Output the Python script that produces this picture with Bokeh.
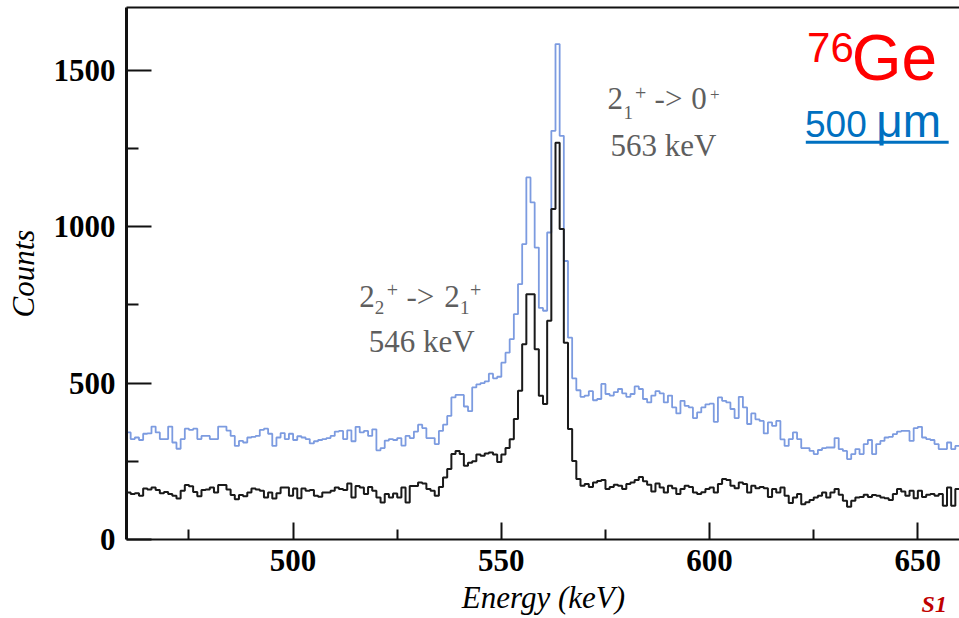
import numpy as np
from bokeh.plotting import figure
from bokeh.models import Range1d, FixedTicker, LinearAxis, Label, BoxAnnotation
from bokeh.embed import file_html
from bokeh.resources import INLINE

# Histogram binning (keV)
bin_start = 460
bin_width = 1

# Counts per 1 keV bin, 460-659 keV (blue spectrum)
counts_blue = [
    342, 321, 326, 318, 338, 339, 361, 342, 321, 321,
    361, 310, 290, 321, 354, 350, 354, 321, 331, 331,
    321, 321, 361, 361, 348, 331, 299, 315, 310, 326,
    328, 331, 350, 354, 338, 299, 326, 340, 321, 338,
    318, 330, 326, 321, 307, 314, 318, 321, 324, 331,
    345, 347, 321, 349, 314, 360, 342, 347, 331, 352,
    285, 292, 316, 321, 318, 324, 300, 331, 324, 345,
    367, 356, 324, 324, 305, 347, 367, 395, 454, 462,
    462, 425, 410, 486, 496, 500, 505, 530, 515, 520,
    565, 597, 640, 720, 816, 944, 1157, 1077, 933, 740,
    731, 981, 1306, 1583, 1290, 890, 645, 515, 477, 456,
    460, 474, 445, 449, 497, 465, 460, 471, 481, 467,
    456, 465, 489, 481, 449, 438, 460, 474, 467, 438,
    460, 422, 403, 443, 427, 422, 388, 406, 422, 432,
    434, 376, 454, 443, 438, 417, 388, 456, 422, 369,
    403, 384, 379, 339, 374, 363, 379, 320, 299, 321,
    342, 321, 292, 292, 283, 273, 286, 292, 294, 294,
    324, 289, 283, 257, 273, 289, 273, 305, 318, 273,
    305, 315, 326, 328, 337, 345, 347, 347, 315, 356,
    360, 326, 321, 318, 305, 289, 289, 310, 289, 299,
]

# Counts per 1 keV bin, 460-659 keV (black spectrum)
counts_black = [
    150, 145, 148, 140, 163, 160, 166, 158, 148, 152,
    145, 140, 131, 156, 174, 170, 152, 138, 158, 160,
    166, 150, 174, 174, 160, 142, 129, 142, 138, 150,
    163, 160, 156, 134, 150, 131, 148, 166, 166, 140,
    163, 132, 163, 156, 158, 140, 137, 150, 150, 156,
    166, 161, 158, 179, 134, 171, 166, 145, 168, 156,
    134, 118, 145, 134, 147, 134, 166, 118, 171, 171,
    182, 179, 161, 156, 140, 168, 198, 225, 273, 283,
    273, 236, 245, 250, 272, 268, 275, 278, 272, 248,
    272, 292, 320, 385, 475, 624, 784, 784, 608, 459,
    433, 699, 1056, 1268, 992, 629, 353, 251, 193, 172,
    177, 168, 182, 187, 190, 161, 168, 175, 172, 161,
    177, 182, 190, 200, 186, 175, 153, 179, 166, 150,
    172, 164, 145, 161, 172, 168, 150, 145, 151, 161,
    166, 150, 177, 193, 190, 172, 164, 182, 177, 150,
    172, 164, 168, 164, 136, 161, 150, 166, 140, 117,
    134, 145, 113, 119, 126, 134, 140, 150, 134, 150,
    161, 143, 124, 105, 124, 134, 136, 143, 136, 142,
    140, 134, 132, 126, 145, 161, 153, 140, 156, 132,
    156, 136, 143, 145, 140, 145, 108, 166, 108, 161,
]

x_ticks = [500, 550, 600, 650]
x_minor = [475, 525, 575, 625]
y_ticks = [0, 500, 1000, 1500]
y_minor = [250, 750, 1250]

# Axis extents in data units
x_lo, x_hi = 460, 660
y_lo, y_hi = 0, 1700

SERIF = "Liberation Serif"
SANS = "Liberation Sans"
GRAY = "#5e5e5e"

# Canvas size and where the axes sit on it (pixels from top-left).
# The frame fills the whole canvas; the axes are pinned at fixed data
# locations so tick labels, titles and notes all live inside the frame.
plot_w, plot_h = 959, 618
axis_left_px, axis_top_px, axis_bottom_px = 126, 7, 539
kev_per_px = (x_hi - x_lo) / (plot_w - axis_left_px)
cnt_per_px = (y_hi - y_lo) / (axis_bottom_px - axis_top_px)

p = figure(
    width=plot_w, height=plot_h,
    x_range=Range1d(x_lo - axis_left_px * kev_per_px, x_hi),
    y_range=Range1d(y_lo - (plot_h - axis_bottom_px) * cnt_per_px,
                    y_hi + axis_top_px * cnt_per_px),
    output_backend="svg", toolbar_location=None,
    min_border=0,
)
p.background_fill_color = "white"
p.border_fill_color = "white"
p.outline_line_color = None
p.grid.visible = False

# Bottom axis, pinned at zero counts
xa = p.xaxis[0]
xa.fixed_location = y_lo
xa.bounds = (x_lo, x_hi)
xa.ticker = FixedTicker(ticks=x_ticks, minor_ticks=x_minor)
xa.major_tick_in = 17
xa.major_tick_out = 0
xa.minor_tick_in = 10
xa.minor_tick_out = 0
xa.major_tick_line_width = 2
xa.minor_tick_line_width = 2
xa.major_tick_line_color = "#111111"
xa.minor_tick_line_color = "#111111"
xa.axis_line_width = 2
xa.axis_line_color = "#111111"
xa.major_label_text_font = SERIF
xa.major_label_text_font_style = "bold"
xa.major_label_text_font_size = "31px"
xa.major_label_text_color = "black"
xa.major_label_standoff = 10

# Left axis, pinned at the first bin edge
ya = p.yaxis[0]
ya.fixed_location = x_lo
ya.bounds = (y_lo, y_hi)
ya.ticker = FixedTicker(ticks=y_ticks, minor_ticks=y_minor)
ya.major_tick_in = 25
ya.major_tick_out = 0
ya.minor_tick_in = 12
ya.minor_tick_out = 0
ya.major_tick_line_width = 2
ya.minor_tick_line_width = 2
ya.major_tick_line_color = "#111111"
ya.minor_tick_line_color = "#111111"
ya.axis_line_width = 3
ya.axis_line_color = "#111111"
ya.major_label_text_font = SERIF
ya.major_label_text_font_style = "bold"
ya.major_label_text_font_size = "31px"
ya.major_label_text_color = "black"
ya.major_label_standoff = 11
ya.axis_label = "Counts"
ya.axis_label_text_font = SERIF
ya.axis_label_text_font_style = "italic"
ya.axis_label_text_font_size = "31px"
ya.axis_label_text_color = "black"
ya.axis_label_standoff = 10

# Top frame line (no right edge)
top = LinearAxis(
    fixed_location=y_hi, bounds=(x_lo, x_hi),
    ticker=FixedTicker(ticks=[], minor_ticks=[]),
    axis_line_width=2, axis_line_color="#111111",
    major_tick_line_color=None, minor_tick_line_color=None,
)
p.add_layout(top, "above")

# Histograms drawn as steps over the bin edges
edges_blue = bin_start + bin_width * np.arange(len(counts_blue) + 1)
edges_black = bin_start + bin_width * np.arange(len(counts_black) + 1)
p.step(edges_blue, np.append(counts_blue, counts_blue[-1]), mode="after",
       line_color="#7c9be0", line_width=1.8)
p.step(edges_black, np.append(counts_black, counts_black[-1]), mode="after",
       line_color="#1a1a1a", line_width=2)


def put(text, x, y, size, color, font=SERIF, style="normal", align="left"):
    p.add_layout(Label(
        x=x, y=y, text=text, text_font=font, text_font_size=f"{size}px",
        text_color=color, text_font_style=style, text_align=align,
        text_baseline="alphabetic",
    ))


# x-axis title under the tick labels
put("Energy (keV)", 560.1, -185, 31, "black", style="italic", align="center")

# 2_2+ -> 2_1+ transition, 546 keV
put("2", 515.9, 778, 31, GRAY)
put("2", 519.6, 741, 19, GRAY)
put("+", 522.5, 796, 20, GRAY)
put("->", 527.2, 778, 31, GRAY)
put("2", 536.3, 778, 31, GRAY)
put("1", 540.1, 741, 19, GRAY)
put("+", 542.5, 796, 20, GRAY)
put("546 keV", 530.9, 634, 31, GRAY, align="center")

# 2_1+ -> 0+ transition, 563 keV
put("2", 575.5, 1409, 31, GRAY)
put("1", 579.3, 1366, 19, GRAY)
put("+", 582.1, 1426, 20, GRAY)
put("->", 586.8, 1409, 31, GRAY)
put("0", 595.6, 1409, 31, GRAY)
put("+", 600.1, 1423, 17, GRAY)
put("563 keV", 588.9, 1258, 31, GRAY, align="center")

# Isotope and thickness tag
put("76", 623.4, 1572, 42, "#ff0000", font=SANS)
put("Ge", 634.1, 1539, 64, "#ff0000", font=SANS)
put("500", 622.9, 1328, 37, "#0070c0", font=SANS)
put("\u03bcm", 640.0, 1338, 46, "#0070c0", font=SANS)
p.add_layout(BoxAnnotation(left=623.1, right=657.4, bottom=1265, top=1274,
                           fill_color="#0070c0", fill_alpha=1, line_color=None))

# Slide tag
put("S1", 650.9, -206, 24, "#c00000", style="bold italic")

open("out.html", "w").write(file_html(p, INLINE))
